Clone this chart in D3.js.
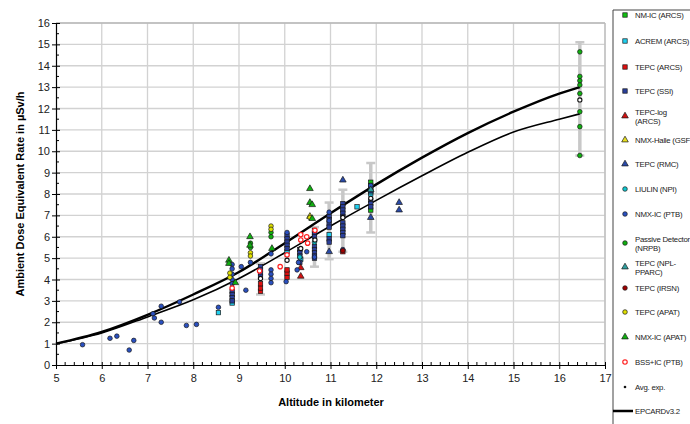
<!DOCTYPE html>
<html><head><meta charset="utf-8">
<script src="https://cdn.jsdelivr.net/npm/d3@7"></script>
<style>body{margin:0;background:#fff}svg{display:block;font-family:"Liberation Sans",Arial,sans-serif}</style>
</head><body><svg id="c" width="690" height="424"></svg>
<script>
// ---- data ----
const xTicks = [5,6,7,8,9,10,11,12,13,14,15,16,17];
const yTicks = [0,1,2,3,4,5,6,7,8,9,10,11,12,13,14,15,16];
const curveUpper = [[5,1.0],[6,1.55],[7,2.35],[8,3.3],[9,4.35],[10,5.7],[11,7.1],[12,8.45],[13,9.7],[14,10.85],[15,11.85],[16,12.7],[16.45,13.0]];
const curveLower = [[5,1.0],[6,1.5],[7,2.25],[8,3.05],[9,4.05],[10,5.25],[11,6.5],[12,7.7],[13,8.85],[14,9.95],[15,10.9],[16,11.5],[16.45,11.75]];
const errorBars = [[9.47,3.3,4.75],[10.65,4.6,6.45],[10.97,4.95,7.6],[11.27,5.3,8.2],[11.88,6.2,9.45],[16.45,9.8,15.1]];
const nmIcArcs = [[11.88,8.55],[11.88,8.4],[11.88,7.25]];
const acremArcs = [[8.55,2.45],[8.85,2.9],[10.05,5.3],[10.35,4.95],[10.65,6.2],[10.97,6.1],[11.58,7.4],[11.88,8.0],[11.88,8.1]];
const tepcArcs = [[9.47,3.45],[9.47,3.6],[9.47,3.8],[10.05,4.1],[10.05,4.3],[10.05,4.45],[11.27,5.3]];
const tepcSsi = [[8.85,3.45],[8.85,3.3],[8.85,3.15],[8.85,3.0],[9.47,4.6],[9.47,4.45],[9.47,4.3],[9.47,4.15],
  [10.05,6.05],[10.05,5.9],[10.05,5.75],[10.05,5.6],[10.05,5.45],[10.33,5.4],[10.33,5.25],[10.33,5.1],[10.33,4.8],
  [10.65,6.3],[10.65,6.15],[10.65,6.0],[10.65,5.55],[10.65,5.4],[10.65,5.25],[10.65,5.1],[10.65,5.0],
  [10.97,6.95],[10.97,6.8],[10.97,6.6],[10.97,6.45],[10.97,5.9],[10.97,5.75],
  [11.27,7.55],[11.27,7.4],[11.27,7.25],[11.27,7.1],[11.27,6.95],[11.27,6.65],[11.27,6.5],[11.27,6.35],[11.27,6.2],[11.27,6.05],
  [11.88,8.3],[11.88,8.15],[11.88,7.7],[11.88,7.55],[11.88,7.4]];
const tepcLogArcs = [[10.35,4.15],[10.35,4.55]];
const nmxHalleGsf = [[10.55,6.95]];
const tepcRmc = [[12.5,7.6],[12.5,7.25],[11.27,8.65],[11.88,6.9],[10.97,5.3]];
const liulinNpi = [[10.65,5.75],[10.33,5.05]];
const nmxIcPtb = [[5.58,0.95],[6.18,1.25],[6.33,1.35],[6.6,0.7],[6.7,1.15],[7.12,2.4],[7.15,2.2],[7.3,2.75],[7.3,2.0],[7.7,2.95],[7.85,1.85],[8.07,1.9],[8.55,2.7],
  [8.85,4.7],[8.85,4.5],[8.85,4.25],[8.85,4.0],[8.85,3.8],[9.05,4.6],[9.15,3.5],[9.25,4.8],[9.7,5.2],[9.7,4.45],[9.7,4.25],[9.7,4.05],[9.7,3.85],
  [10.05,6.2],[10.03,3.9],[10.27,4.45],[10.3,4.8],[10.48,5.3],[10.65,5.05],[10.97,7.15],[10.97,6.75],[11.27,5.4],[11.88,8.4]];
const passiveNrpb = [[9.25,5.7],[9.25,5.5],[9.7,6.2],[9.7,6.0],[16.45,14.65],[16.45,13.5],[16.45,13.3],[16.45,13.1],[16.45,12.7],[16.45,11.85],[16.45,11.15],[16.45,9.8]];
const tepcNplPparc = [[11.88,8.2]];
const tepcIrsn = [[11.27,5.35]];
const tepcApat = [[8.8,4.3],[8.8,4.1],[9.25,5.25],[9.25,5.1],[9.7,6.5],[9.7,6.35],[10.55,6.9]];
const nmxIcApat = [[8.78,4.9],[8.78,4.75],[8.92,3.85],[9.24,6.0],[9.24,5.6],[9.72,5.45],[10.55,8.25],[10.55,7.6],[10.6,7.5],[10.6,6.85]];
const bssIcPtb = [[8.85,3.6],[9.45,4.4],[9.9,4.6],[10.05,5.15],[10.35,6.1],[10.35,5.85],[10.48,6.0],[10.5,5.7],[10.66,6.3]];
const avgExp = [[9.47,4.05],[10.05,4.9],[10.35,5.45],[10.66,5.85],[11.27,6.9],[11.88,7.8],[16.45,12.4]];

const seriesNames = ["NM-IC (ARCS)","ACREM (ARCS)","TEPC (ARCS)","TEPC (SSI)","TEPC-log|(ARCS)","NMX-Halle (GSF","TEPC (RMC)","LIULIN (NPI)","NMX-IC (PTB)","Passive Detector|(NRPB)","TEPC (NPL-|PPARC)","TEPC (IRSN)","TEPC (APAT)","NMX-IC (APAT)","BSS+IC (PTB)","Avg. exp.","EPCARDv3.2"];
const seriesData = [nmIcArcs,acremArcs,tepcArcs,tepcSsi,tepcLogArcs,nmxHalleGsf,tepcRmc,liulinNpi,nmxIcPtb,passiveNrpb,tepcNplPparc,tepcIrsn,tepcApat,nmxIcApat,bssIcPtb,avgExp,null];
const seriesShape = ["square","square","square","square","triangle","triangle","triangle","circle","circle","circle","triangle","circle","circle","triangle","ring","avg","line"];
const seriesColor = ["#10c010","#20d0f0","#e01010","#2a3f9a","#d01010","#e8e020","#2a4aa8","#10c8d0","#2a50c0","#10b010","#30a0a0","#a00000","#e0e000","#10b010","#ff2020","#222","#000"];

// ---- layout ----
const svg = d3.select("#c");
const L = 56, R = 605, T = 23, B = 365;
const x = d3.scaleLinear().domain([5,17]).range([L,R]);
const y = d3.scaleLinear().domain([0,16]).range([B,T]);

// grid
svg.append("g").selectAll("line.v").data(xTicks.slice(1)).join("line")
  .attr("x1",d=>x(d)).attr("x2",d=>x(d)).attr("y1",T).attr("y2",B)
  .attr("stroke","#d2d2d2").attr("stroke-width",1.3);
svg.append("g").selectAll("line.h").data(yTicks.slice(1)).join("line")
  .attr("x1",L).attr("x2",R).attr("y1",d=>y(d)).attr("y2",d=>y(d))
  .attr("stroke","#d2d2d2").attr("stroke-width",1.3);
svg.append("line").attr("x1",L).attr("x2",R).attr("y1",T).attr("y2",T).attr("stroke","#aaa").attr("stroke-width",1.2);
svg.append("line").attr("x1",R).attr("x2",R).attr("y1",T).attr("y2",B).attr("stroke","#bbb").attr("stroke-width",1.2);

// axes
const xAxis = d3.axisBottom(x).tickValues(xTicks).tickSize(4).tickSizeOuter(0).tickFormat(d3.format("d"));
const gx = svg.append("g").attr("transform",`translate(0,${B})`).call(xAxis);
gx.selectAll(".tick line").attr("y1",-3).attr("stroke","#000");
gx.select(".domain").attr("stroke","#000").attr("stroke-width",1.2);
gx.selectAll("text").attr("font-size",11).attr("dy","0.95em").attr("fill","#222").attr("font-family","Liberation Sans, Arial");
const xMinor = d3.range(50,171,2).map(v=>v/10).filter(v=>Math.abs(v-Math.round(v))>0.01);
svg.append("g").selectAll("line").data(xMinor).join("line")
  .attr("x1",d=>x(d)).attr("x2",d=>x(d)).attr("y1",B-3).attr("y2",B).attr("stroke","#000");

const yAxis = d3.axisLeft(y).tickValues(yTicks).tickSize(4).tickSizeOuter(0).tickFormat(d3.format("d"));
const gy = svg.append("g").attr("transform",`translate(${L},0)`).call(yAxis);
gy.selectAll(".tick line").attr("x1",-4).attr("x2",4).attr("stroke","#000");
gy.select(".domain").attr("stroke","#000").attr("stroke-width",1.2);
gy.selectAll("text").attr("font-size",11).attr("x",-6).attr("fill","#222").attr("font-family","Liberation Sans, Arial");
const yMinor = d3.range(0.5,16,1);
svg.append("g").selectAll("line").data(yMinor).join("line")
  .attr("x1",L).attr("x2",L+3).attr("y1",d=>y(d)).attr("y2",d=>y(d)).attr("stroke","#000");

// titles
svg.append("text").attr("x",331).attr("y",406).attr("text-anchor","middle").attr("font-size",11).attr("font-weight","bold").text("Altitude in kilometer");
svg.append("text").attr("transform",`translate(24,${(T+B)/2}) rotate(-90)`).attr("text-anchor","middle").attr("font-size",11).attr("font-weight","bold").text("Ambient Dose Equivalent Rate in µSv/h");

// error bars
const eb = svg.append("g");
eb.selectAll("line.bar").data(errorBars).join("line")
  .attr("x1",d=>x(d[0])).attr("x2",d=>x(d[0])).attr("y1",d=>y(d[1])).attr("y2",d=>y(d[2]))
  .attr("stroke","#c8c8c8").attr("stroke-width",3.5);
eb.selectAll("line.cap1").data(errorBars).join("line")
  .attr("x1",d=>x(d[0])-4.5).attr("x2",d=>x(d[0])+4.5).attr("y1",d=>y(d[1])).attr("y2",d=>y(d[1]))
  .attr("stroke","#c8c8c8").attr("stroke-width",2.5);
eb.selectAll("line.cap2").data(errorBars).join("line")
  .attr("x1",d=>x(d[0])-4.5).attr("x2",d=>x(d[0])+4.5).attr("y1",d=>y(d[2])).attr("y2",d=>y(d[2]))
  .attr("stroke","#c8c8c8").attr("stroke-width",2.5);

// curves
const line = d3.line().x(d=>x(d[0])).y(d=>y(d[1])).curve(d3.curveMonotoneX);
svg.append("path").attr("d",line(curveUpper)).attr("fill","none").attr("stroke","#000").attr("stroke-width",2.4);
svg.append("path").attr("d",line(curveLower)).attr("fill","none").attr("stroke","#000").attr("stroke-width",1.6);

// markers
function marker(g, shape, color){
  if(shape==="square"){
    g.append("rect").attr("x",-2.2).attr("y",-2.2).attr("width",4.4).attr("height",4.4).attr("fill",color).attr("stroke","#1a1a1a").attr("stroke-width",0.7);
  } else if(shape==="triangle"){
    g.append("path").attr("d",d3.symbol().type(d3.symbolTriangle).size(19)()).attr("fill",color).attr("stroke","#1a1a1a").attr("stroke-width",0.7);
  } else if(shape==="circle"){
    g.append("circle").attr("r",2.3).attr("fill",color).attr("stroke","#1a1a1a").attr("stroke-width",0.7);
  } else if(shape==="ring"){
    g.append("circle").attr("r",2.2).attr("fill","#fff").attr("stroke",color).attr("stroke-width",1.2);
  } else if(shape==="avg"){
    g.append("circle").attr("r",2.1).attr("fill","#fff").attr("stroke","#111").attr("stroke-width",1.1);
  }
}
const pts = svg.append("g");
seriesData.forEach((arr,i)=>{
  if(!arr) return;
  arr.forEach(p=>{
    const g = pts.append("g").attr("transform",`translate(${x(p[0])},${y(p[1])})`);
    marker(g, seriesShape[i], seriesColor[i]);
  });
});

// legend
const legY = [15,41,67,91,116,140,164,189,214,243,267,288,312,337,362,387,411];
const lg = svg.append("g");
lg.append("line").attr("x1",613).attr("x2",690).attr("y1",10).attr("y2",10).attr("stroke","#444");
lg.append("line").attr("x1",613).attr("x2",613).attr("y1",10).attr("y2",424).attr("stroke","#444");
seriesNames.forEach((name,i)=>{
  const yy = legY[i];
  const g = lg.append("g").attr("transform",`translate(625,${yy})`);
  if(seriesShape[i]==="line"){
    g.append("line").attr("x1",-12).attr("x2",8).attr("y1",0).attr("y2",0).attr("stroke","#000").attr("stroke-width",2.5);
  } else if(seriesShape[i]==="avg"){
    g.append("circle").attr("r",1.3).attr("fill","#111");
  } else {
    marker(g, seriesShape[i], seriesColor[i]);
  }
  const lines = name.split("|");
  const t = lg.append("text").attr("x",635).attr("font-size",7.8).attr("letter-spacing",-0.25).attr("fill","#222");
  lines.forEach((ln,k)=>{
    t.append("tspan").attr("x",635).attr("y",yy + 3 + (lines.length>1 ? (k*9.5 - 4.5) : 0)).text(ln);
  });
});
</script></body></html>
